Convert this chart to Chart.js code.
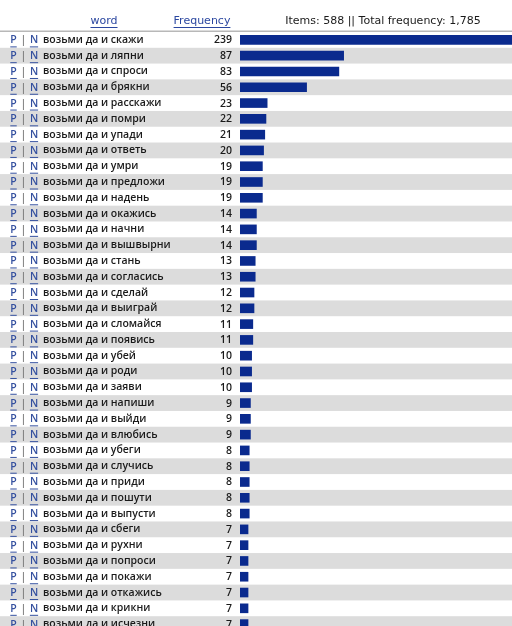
<!DOCTYPE html>
<html><head><meta charset="utf-8">
<script src="https://cdn.jsdelivr.net/npm/chart.js@4"></script>
<style>
html,body{margin:0;padding:0;overflow:hidden;background:#fff;width:512px;height:626px}
#wrap{position:relative;width:512px;height:632px}
</style>
</head><body>
<div id="wrap"><canvas id="c" width="512" height="632"></canvas></div>
<script>
const rowWords = [
  'возьми да и скажи','возьми да и ляпни','возьми да и спроси','возьми да и брякни',
  'возьми да и расскажи','возьми да и помри','возьми да и упади','возьми да и ответь',
  'возьми да и умри','возьми да и предложи','возьми да и надень','возьми да и окажись',
  'возьми да и начни','возьми да и вышвырни','возьми да и стань','возьми да и согласись',
  'возьми да и сделай','возьми да и выиграй','возьми да и сломайся','возьми да и появись',
  'возьми да и убей','возьми да и роди','возьми да и заяви','возьми да и напиши',
  'возьми да и выйди','возьми да и влюбись','возьми да и убеги','возьми да и случись',
  'возьми да и приди','возьми да и пошути','возьми да и выпусти','возьми да и сбеги',
  'возьми да и рухни','возьми да и попроси','возьми да и покажи','возьми да и откажись',
  'возьми да и крикни','возьми да и исчезни'
];
const frequencies = [
  239,87,83,56,23,22,21,20,19,19,19,14,14,14,13,13,12,12,11,11,
  10,10,10,9,9,9,8,8,8,8,8,7,7,7,7,7,7,7
];
const headerWord = 'word';
const headerFrequency = 'Frequency';
const summaryText = 'Items: 588 || Total frequency: 1,785';
const linkP = 'P';
const linkN = 'N';

const HFONT = '"DejaVu Sans", Verdana, sans-serif';
const RFONT = '"Open Sans", "Noto Sans", sans-serif';
const LINK = '#34509f';

function underlineText(ctx, txt, x, y, align, off) {
  ctx.textAlign = align;
  ctx.fillText(txt, x, y);
  const w = ctx.measureText(txt).width;
  let x0 = x;
  if (align === 'center') x0 = x - w / 2;
  else if (align === 'right') x0 = x - w;
  ctx.fillRect(x0, y + off, w, 1);
}

const tablePlugin = {
  id: 'tablePlugin',
  beforeDraw(chart) {
    const ctx = chart.ctx;
    const ys = chart.scales.y;
    const pitch = ys.getPixelForValue(1) - ys.getPixelForValue(0);
    ctx.save();
    ctx.fillStyle = '#fff';
    ctx.fillRect(0, 0, chart.width, chart.height);
    for (let i = 0; i < rowWords.length; i++) {
      if (i % 2 === 1) {
        const yc = ys.getPixelForValue(i);
        ctx.fillStyle = '#dcdcdc';
        ctx.fillRect(0, yc - pitch / 2, chart.width, pitch);
      }
    }
    ctx.fillStyle = '#b8b8b8';
    ctx.fillRect(0, ys.top - 1.5, chart.width, 1.5);
    ctx.restore();
  },
  afterDraw(chart) {
    const ctx = chart.ctx;
    const ys = chart.scales.y;
    ctx.save();
    ctx.textBaseline = 'middle';
    ctx.font = '11px ' + HFONT;
    ctx.fillStyle = '#2b47a0';
    underlineText(ctx, headerWord, 104, 21, 'center', 6);
    underlineText(ctx, headerFrequency, 202, 21, 'center', 6);
    ctx.fillStyle = '#1a1a1a';
    ctx.textAlign = 'center';
    ctx.fillText(summaryText, 383, 21);
    ctx.font = '600 10.5px ' + RFONT;
    for (let i = 0; i < rowWords.length; i++) {
      const yc = ys.getPixelForValue(i) + 0.5;
      ctx.fillStyle = LINK;
      underlineText(ctx, linkP, 13.5, yc, 'center', 6);
      underlineText(ctx, linkN, 34, yc, 'center', 6);
      ctx.fillStyle = '#777';
      ctx.textAlign = 'center';
      ctx.fillText('|', 23.5, yc);
      ctx.fillStyle = '#1a1a1a';
      ctx.textAlign = 'right';
      ctx.fillText(String(frequencies[i]), 232, yc);
    }
    ctx.restore();
  }
};

new Chart(document.getElementById('c'), {
  type: 'bar',
  data: {
    labels: rowWords,
    datasets: [{
      data: frequencies,
      backgroundColor: '#0a2a8e',
      borderWidth: 0,
      barPercentage: 0.61,
      categoryPercentage: 1.0
    }]
  },
  options: {
    indexAxis: 'y',
    responsive: false,
    animation: false,
    events: [],
    layout: { padding: { top: 32, left: 43, right: 0, bottom: 0 } },
    plugins: { legend: { display: false }, tooltip: { enabled: false } },
    scales: {
      x: { display: false, min: 0, max: 227.6 },
      y: {
        display: true,
        grid: { display: false, drawTicks: false },
        border: { display: false },
        afterFit(scale) { scale.width = 197; scale.paddingTop = 0; scale.paddingBottom = 0; },
        ticks: {
          crossAlign: 'far',
          padding: 0,
          autoSkip: false,
          color: '#1a1a1a',
          font: { family: RFONT, size: 10.5, weight: '600' }
        }
      }
    }
  },
  plugins: [tablePlugin]
});
</script>
</body></html>
